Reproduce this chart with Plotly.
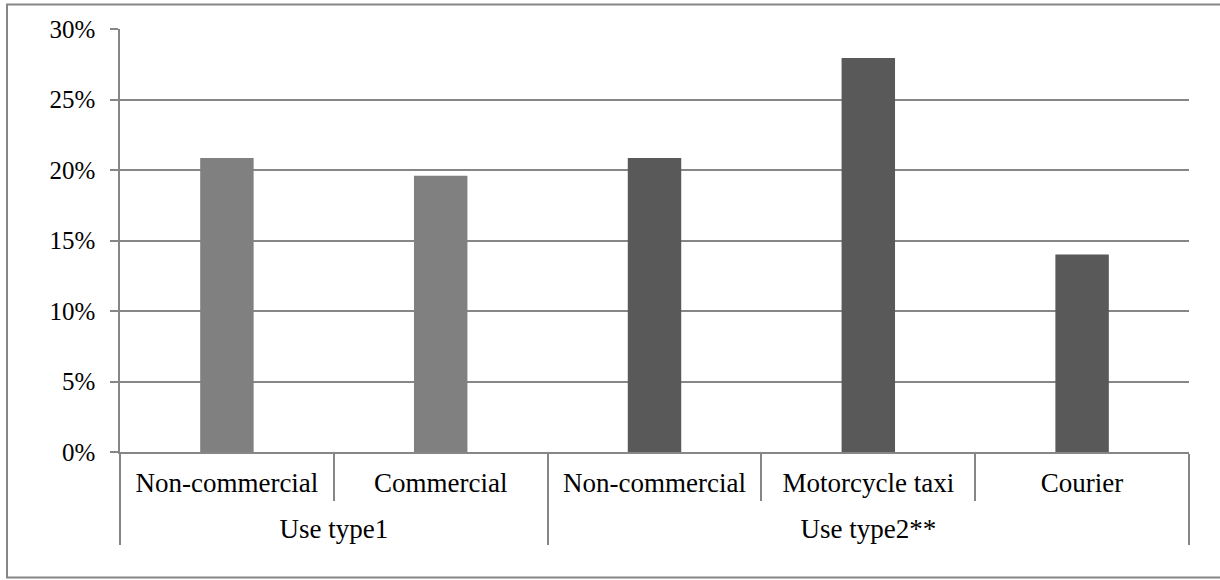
import plotly.graph_objects as go

groups = ["Use type1", "Use type1", "Use type2**", "Use type2**", "Use type2**"]
categories = ["Non-commercial", "Commercial", "Non-commercial", "Motorcycle taxi", "Courier"]
values = [20.85, 19.6, 20.85, 27.95, 14.0]
bar_colors = ["#808080", "#808080", "#595959", "#595959", "#595959"]
y_ticks = [0, 5, 10, 15, 20, 25, 30]
y_tick_labels = ["0%", "5%", "10%", "15%", "20%", "25%", "30%"]

W, H = 1220, 580
L, R, T, B = 120, 31, 28.5, 127.7
pw, ph = W - L - R, H - T - B

LABEL_PX = 27
span = "<span style='font-size:%dpx'>%s</span>"
# outer group labels sit one (short) line lower, as in the reference
group_labels = ["<br>" + span % (LABEL_PX, g) for g in groups]
category_labels = [span % (LABEL_PX, c) for c in categories]

fig = go.Figure(go.Bar(
    x=[group_labels, category_labels],
    y=values,
    marker=dict(color=bar_colors, line=dict(width=0)),
    hoverinfo="skip",
))

axis_col = "#868686"
fig.update_layout(
    width=W, height=H,
    margin=dict(l=L, r=R, t=T, b=B, autoexpand=False),
    paper_bgcolor="white", plot_bgcolor="white",
    bargap=0.75,
    showlegend=False,
    font=dict(family="Liberation Serif, Times New Roman, serif", size=25, color="black"),
    xaxis=dict(
        type="multicategory",
        showline=True, linecolor=axis_col, linewidth=1.5,
        ticks="outside", tickson="boundaries", ticklen=47, tickcolor=axis_col, tickwidth=1.5,
        showdividers=True, dividercolor=axis_col, dividerwidth=1.5,
        showgrid=False, zeroline=False,
        ticklabelstandoff=13,
        tickfont=dict(size=21),
    ),
    yaxis=dict(
        range=[0, 30], tickvals=y_ticks, ticktext=y_tick_labels,
        showline=True, linecolor=axis_col, linewidth=1.5,
        ticks="outside", ticklen=8, tickcolor=axis_col, tickwidth=1.5,
        showgrid=True, gridcolor=axis_col, gridwidth=1.5,
        zeroline=False, ticklabelstandoff=10,
    ),
    shapes=[dict(
        type="rect", xref="paper", yref="paper",
        x0=(7 - L) / pw, x1=(1235 - L) / pw,
        y0=(H - B - 578) / ph, y1=(H - B - 4) / ph,
        line=dict(color=axis_col, width=2), fillcolor="rgba(0,0,0,0)", layer="below",
    )],
)

fig.write_html("out.html")
